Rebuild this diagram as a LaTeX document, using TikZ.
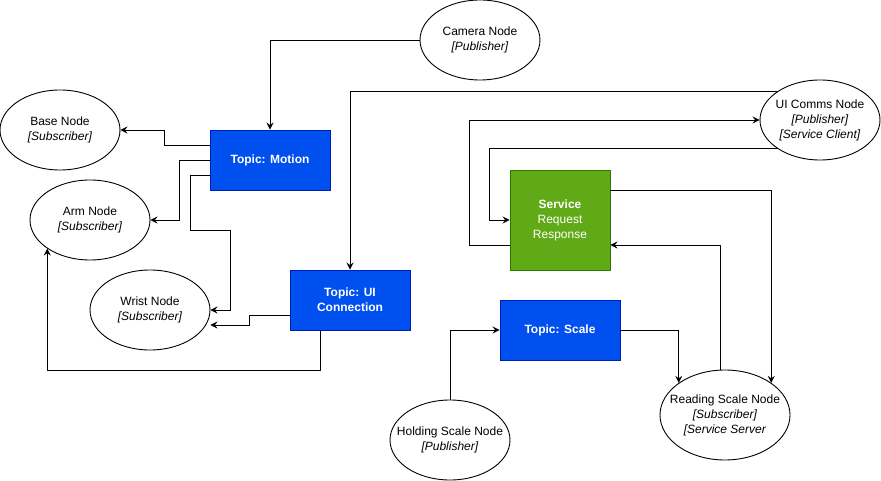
\documentclass[tikz,border=0pt]{standalone}
\usepackage{fontspec}
\setmainfont{Liberation Sans}
\usepackage{xcolor}
\usetikzlibrary{arrows.meta, shapes.geometric}
\definecolor{topicblue}{HTML}{0050EF}
\definecolor{topicedge}{HTML}{001DBC}
\definecolor{servgreen}{HTML}{60A917}
\definecolor{servedge}{HTML}{2D7600}
\tikzset{every picture/.style={font issue=\fontsize{12}{15}},
         font issue/.style={execute at begin picture={#1\selectfont}}
        }

\begin{document}
\begin{tikzpicture}[x=1pt, y=-1pt,
  rosnode/.style={draw, ellipse, line width=0.9pt, inner xsep=-13pt, inner ysep=0pt, minimum width=120pt, minimum height=80pt, align=center},
  topicbox/.style={draw=topicedge, fill=topicblue, line width=0.9pt, text=white, font=\bfseries, minimum width=120pt, minimum height=60pt, align=center},
  servicebox/.style={draw=servedge, fill=servgreen, line width=0.9pt, text=white, minimum width=100pt, minimum height=100pt, align=center},
  link/.style={->, line width=0.9pt},
  >={Stealth[length=7pt, width=7pt, inset=2.5pt]}]
\useasboundingbox (0,0) rectangle (881,481);

\node[rosnode] (camera) at (480,40) {Camera Node\\\textit{[Publisher]}};
\node[rosnode] (base) at (60,130) {Base Node\\\textit{[Subscriber]}};
\node[rosnode] (arm) at (90,220) {Arm Node\\\textit{[Subscriber]}};
\node[rosnode] (wrist) at (150,310) {Wrist Node\\\textit{[Subscriber]}};
\node[rosnode] (uicomms) at (820,120) {UI Comms Node\\\textit{[Publisher]}\\\textit{[Service Client]}};
\node[rosnode] (holding) at (450,440) {Holding Scale Node\\\textit{[Publisher]}};
\node[rosnode, minimum width=130pt, minimum height=90pt] (reading) at (725,415) {Reading Scale Node\\\textit{[Subscriber]}\\\textit{[Service Server}};

\node[topicbox] (motion) at (270,160) {Topic: Motion};
\node[topicbox] (uiconn) at (350,300) {Topic: UI\\Connection};
\node[topicbox] (scale) at (560,330) {Topic: Scale};
\node[servicebox] (service) at (560,220) {\textbf{Service}\\Request\\Response};

%lines
\draw[link] (camera.west) -| (motion.north);
\draw[link] ([yshift=15pt]motion.west) -- ++(-45,0) |- (base.east);
\draw[link] (motion.west) -- ++(-30,0) |- (arm.east);
\draw[link] ([yshift=-15pt]motion.west) -| (190,230) -| (230,310) -- (wrist.east);
\draw[link] ([yshift=-15pt]uiconn.west) -- ++(-40,0) |- ([yshift=-15pt]wrist.east);
\draw[link] ([xshift=-30pt]uiconn.south) -- ++(0,40) -| (arm.south west);
\draw[link] (uicomms.north west) -| (uiconn.north);
\draw[link] ([yshift=-25pt]service.west) -- ++(-40,0) |- (uicomms.west);
\draw[link] (uicomms.south west) -| ([xshift=-20pt]service.west) -- (service.west);
\draw[link] ([yshift=30pt]service.east) -| (reading.north east);
\draw[link] ([xshift=-5pt]reading.north) |- ([yshift=-25pt]service.east);
\draw[link] (scale.east) -| (reading.north west);
\draw[link] (holding.north) |- (scale.west);

\end{tikzpicture}
\end{document}
